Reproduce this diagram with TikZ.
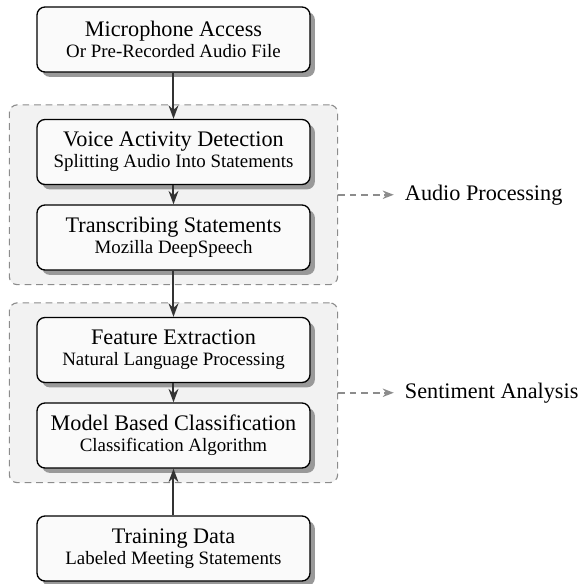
\documentclass[tikz,border=0pt]{standalone}
\usepackage{fontspec}
\setmainfont{Liberation Serif}
\usetikzlibrary{positioning,shadows,fit,backgrounds,arrows.meta}

\newcommand{\subline}[1]{\\[-1.5pt]{\fontsize{8.5}{10}\selectfont #1}}

\tikzset{
	stepbox/.style={draw=black,line width=0.6pt,fill=black!2,rounded corners=3.6pt,
		minimum width=122.85pt,minimum height=29.25pt,align=center,inner sep=0pt,
		font=\fontsize{10}{11}\selectfont,
		drop shadow={shadow xshift=2.2pt,shadow yshift=-2.2pt,fill=black!40,opacity=1}},
	groupbox/.style={draw=black!45,dashed,dash pattern=on 3pt off 2.2pt,line width=0.5pt,
		fill=black!5,rounded corners=3.6pt,inner xsep=12.15pt,inner ysep=6.3pt},
	flow/.style={draw=black!80,line width=0.9pt,-{Stealth[length=6pt,width=4.4pt]}},
	side/.style={draw=black!45,dashed,dash pattern=on 3pt off 2.2pt,line width=0.7pt,
		-{Stealth[length=5pt,width=3.8pt]},shorten >=1.5pt},
}

\begin{document}
\begin{tikzpicture}[x=0.45pt,y=-0.45pt]
	\useasboundingbox (0,0) rectangle (578,584);

	\node[stepbox] (mic) at (173.5,39.5) {Microphone Access\subline{Or Pre-Recorded Audio File}};
	\node[stepbox] (vad) at (173.5,152) {Voice Activity Detection\subline{Splitting Audio Into Statements}};
	\node[stepbox] (stt) at (173.5,237.5) {Transcribing Statements\subline{Mozilla DeepSpeech}};
	\node[stepbox] (feat) at (173.5,350) {Feature Extraction\subline{Natural Language Processing}};
	\node[stepbox] (model) at (173.5,435.5) {Model Based Classification\subline{Classification Algorithm}};
	\node[stepbox] (train) at (173.5,548.5) {Training Data\subline{Labeled Meeting Statements}};

	% groups
	\begin{scope}[on background layer]
		\node[groupbox,fit=(vad)(stt)] (audio) {};
		\node[groupbox,fit=(feat)(model)] (senti) {};
	\end{scope}

	\draw[flow] (mic) -- (vad);
	\draw[flow] (vad) -- (stt);
	\draw[flow] (stt) -- (feat);
	\draw[flow] (feat) -- (model);
	\draw[flow] (train) -- (model);

	% labels
	\node[anchor=west,xshift=26.5pt,font=\fontsize{10}{12}\selectfont] (audiolbl) at (audio.east) {Audio Processing};
	\node[anchor=west,xshift=26.5pt,font=\fontsize{10}{12}\selectfont] (sentilbl) at (senti.east) {Sentiment Analysis};

	\draw[side] (audio.east) -- (audiolbl.west);
	\draw[side] (senti.east) -- (sentilbl.west);

\end{tikzpicture}
\end{document}
